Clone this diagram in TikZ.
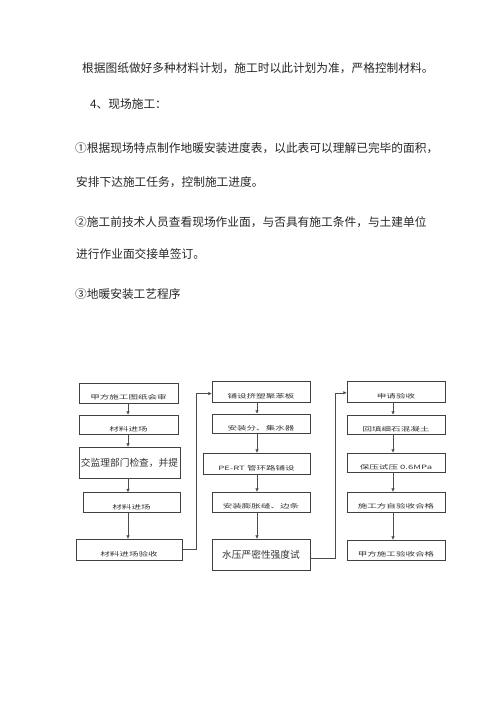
\documentclass[tikz,border=0pt]{standalone}
\usepackage{fontspec}
\setmainfont{Noto Sans CJK SC}
\usepackage{tikz}
\usetikzlibrary{arrows.meta, positioning}

\newcommand{\squash}[1]{\scalebox{1}[0.62]{#1}}

\begin{document}
\begin{tikzpicture}[x=0.042cm, y=-0.042cm,
  para/.style={anchor=west, inner sep=0pt, font=\fontsize{14}{14}\selectfont, text=black!85},
  box/.style={draw=black!75, line width=0.6pt, inner sep=0pt, text=black!80},
  lowbox/.style={box, minimum height=0.84cm, text height=0.55cm, text depth=0pt,
    font=\fontsize{11.4}{11.4}\selectfont},
  bigbox/.style={box, font=\fontsize{11.6}{11.6}\selectfont},
  arr/.style={draw=black!70, line width=0.6pt, -{Latex[length=4pt,width=4pt]}}]
  \useasboundingbox (0,0) rectangle (500,708);

  % Text above the chart
  \node[para] (t1) at (82,68) {根据图纸做好多种材料计划，施工时以此计划为准，严格控制材料。};
  \node[para] (t2) at (90,104) {4、现场施工：};
  \node[para] (t3) at (75,148) {①根据现场特点制作地暖安装进度表，以此表可以理解已完毕的面积，};
  \node[para] (t4) at (76,182) {安排下达施工任务，控制施工进度。};
  \node[para] (t5) at (75,222) {②施工前技术人员查看现场作业面，与否具有施工条件，与土建单位};
  \node[para] (t6) at (76,254) {进行作业面交接单签订。};
  \node[para] (t7) at (75,294) {③地暖安装工艺程序};

  % Column 1
  \node[lowbox, minimum width=4.16cm] (c1a) at (128.5,393) {\squash{甲方施工图纸会审}};
  \node[lowbox, minimum width=4.16cm, minimum height=0.80cm] (c1b) at (128.5,424.5) {\squash{材料进场}};
  \node[bigbox, minimum width=4.24cm, minimum height=1.30cm] (c1c) at (129.5,462.5) {交监理部门检查，并提};
  \node[lowbox, minimum width=4.07cm] (c1d) at (131.5,502.5) {\squash{材料进场}};
  \node[lowbox, minimum width=4.45cm, minimum height=0.88cm] (c1e) at (129,549.5) {\squash{材料进场验收}};

  % Column 2
  \node[lowbox, minimum width=4.12cm, minimum height=0.88cm] (c2a) at (261,391.5) {\squash{铺设挤塑聚苯板}};
  \node[lowbox, minimum width=4.12cm, minimum height=0.80cm] (c2b) at (261,423.5) {\squash{安装分、集水器}};
  \node[lowbox, minimum width=4.49cm, minimum height=0.88cm] (c2c) at (256.5,463.5) {\squash{PE-RT 管环路铺设}};
  \node[lowbox, minimum width=4.12cm] (c2d) at (261,502) {\squash{安装膨胀缝、边条}};
  \node[bigbox, minimum width=4.12cm, minimum height=1.30cm] (c2e) at (261,554.5) {水压严密性强度试};

  % Column 3
  \node[lowbox, minimum width=4.12cm, minimum height=0.88cm] (c3a) at (396,391.5) {\squash{申请验收}};
  \node[lowbox, minimum width=4.12cm, minimum height=0.80cm] (c3b) at (396,424.5) {\squash{回填细石混凝土}};
  \node[lowbox, minimum width=4.12cm, minimum height=0.80cm] (c3c) at (396,462.5) {\squash{保压试压 0.6MPa}};
  \node[lowbox, minimum width=4.12cm] (c3d) at (396,502) {\squash{施工方自验收合格}};
  \node[lowbox, minimum width=4.12cm] (c3e) at (396,550) {\squash{甲方施工验收合格}};

  % Arrows down each column
  \draw[arr] (c1a.south -| 128,0) -- (c1b.north -| 128,0);
  \draw[arr] (c1b.south -| 128,0) -- (c1c.north -| 128,0);
  \draw[arr] (c1c.south -| 128,0) -- (c1d.north -| 128,0);
  \draw[arr] (c1d.south -| 128,0) -- (c1e.north -| 128,0);
  \draw[arr] (c2a.south -| 257,0) -- (c2b.north -| 257,0);
  \draw[arr] (c2b.south -| 257,0) -- (c2c.north -| 257,0);
  \draw[arr] (c2c.south -| 257,0) -- (c2d.north -| 257,0);
  \draw[arr] (c2d.south -| 257,0) -- (c2e.north -| 257,0);
  \draw[arr] (c3a.south -| 393,0) -- (c3b.north -| 393,0);
  \draw[arr] (c3b.south -| 393,0) -- (c3c.north -| 393,0);
  \draw[arr] (c3c.south -| 393,0) -- (c3d.north -| 393,0);
  \draw[arr] (c3d.south -| 393,0) -- (c3e.north -| 393,0);

  % Links between columns
  \draw[arr] (c1e.east) -- ++(14,0) |- ([yshift=-2.5]c2a.west);
  \draw[arr] ([yshift=-4]c2e.east) -- ++(25,0) |- ([yshift=-1.5]c3a.west);
\end{tikzpicture}
\end{document}
